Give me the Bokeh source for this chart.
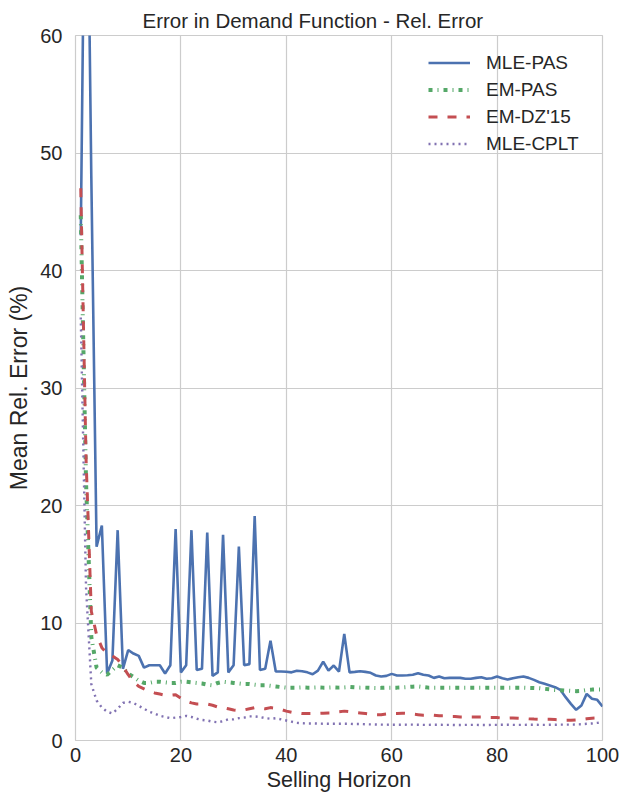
from bokeh.plotting import figure
from bokeh.models import ColumnDataSource, Legend, LegendItem, FixedTicker, Range1d
from bokeh.embed import file_html
from bokeh.resources import INLINE

# ---------------- data ----------------
horizon = list(range(1, 101))

mle_pas = [43, 85, 48, 16.5, 18.3, 5.7, 6.8, 17.9, 6.1, 7.7,
           7.4, 7.2, 6.2, 6.4, 6.4, 6.4, 5.7, 6.4, 18.0, 5.8,
           6.4, 17.9, 6.0, 6.1, 17.7, 5.5, 5.8, 17.5, 5.8, 6.4,
           16.5, 6.4, 6.5, 19.1, 6.0, 6.1, 8.5, 5.87, 5.87, 5.85,
           5.8, 5.93, 5.9, 5.8, 5.64, 5.95, 6.72, 5.95, 6.38, 5.87,
           9.08, 5.8, 5.84, 5.9, 5.84, 5.76, 5.53, 5.45, 5.5, 5.67,
           5.53, 5.53, 5.55, 5.6, 5.73, 5.6, 5.53, 5.33, 5.45, 5.3,
           5.33, 5.33, 5.33, 5.25, 5.25, 5.33, 5.39, 5.25, 5.3, 5.45,
           5.3, 5.19, 5.3, 5.39, 5.45, 5.33, 5.16, 4.96, 4.82, 4.68,
           4.54, 4.31, 3.69, 3.12, 2.61, 2.98, 3.97, 3.55, 3.46, 2.89]

em_pas = [44.7, 22, 8.8, 6.2, 5.8, 5.6, 6.0, 6.4, 6.2, 5.7,
          5.4, 5.1, 4.9, 4.9, 5.0, 5.0, 4.95, 4.9, 4.9, 5.0,
          5.0, 4.95, 4.9, 4.85, 4.75, 4.7, 4.9, 5.0, 4.95, 4.9,
          4.85, 4.8, 4.8, 4.75, 4.7, 4.7, 4.65, 4.6, 4.55, 4.5,
          4.5, 4.5, 4.52, 4.5, 4.5, 4.52, 4.5, 4.5, 4.52, 4.5,
          4.52, 4.55, 4.52, 4.5, 4.5, 4.48, 4.47, 4.48, 4.5, 4.5,
          4.5, 4.52, 4.55, 4.58, 4.6, 4.55, 4.5, 4.5, 4.5, 4.5,
          4.5, 4.5, 4.5, 4.5, 4.5, 4.5, 4.5, 4.5, 4.5, 4.5,
          4.5, 4.5, 4.5, 4.5, 4.5, 4.48, 4.47, 4.45, 4.4, 4.35,
          4.3, 4.28, 4.25, 4.22, 4.2, 4.22, 4.3, 4.33, 4.35, 4.35]

em_dz15 = [47, 24, 11, 9.0, 7.9, 7.4, 7.2, 6.9, 6.3, 5.6,
           5.0, 4.6, 4.4, 4.2, 4.05, 3.95, 3.85, 3.85, 3.9, 3.6,
           3.35, 3.2, 3.1, 3.1, 3.1, 3.0, 2.85, 2.8, 2.7, 2.6,
           2.55, 2.6, 2.7, 2.8, 2.75, 2.7, 2.8, 2.75, 2.65, 2.5,
           2.4, 2.35, 2.3, 2.3, 2.3, 2.3, 2.32, 2.35, 2.35, 2.45,
           2.5, 2.45, 2.4, 2.35, 2.3, 2.25, 2.2, 2.2, 2.25, 2.3,
           2.3, 2.32, 2.3, 2.25, 2.2, 2.15, 2.15, 2.15, 2.1, 2.1,
           2.05, 2.05, 2.0, 2.0, 2.0, 2.0, 2.0, 1.95, 1.95, 1.95,
           1.9, 1.9, 1.92, 1.9, 1.88, 1.85, 1.82, 1.8, 1.8, 1.8,
           1.78, 1.75, 1.72, 1.72, 1.75, 1.78, 1.85, 1.9, 1.92, 1.92]

mle_cplt = [36, 13, 4.8, 3.4, 2.8, 2.45, 2.3, 2.7, 3.2, 3.3,
            3.2, 2.95, 2.7, 2.45, 2.3, 2.1, 2.0, 1.9, 1.95, 2.0,
            2.1, 2.0, 1.85, 1.75, 1.7, 1.6, 1.55, 1.65, 1.8, 1.8,
            1.9, 1.95, 2.05, 2.05, 2.0, 1.9, 1.85, 1.9, 1.8, 1.7,
            1.6, 1.5, 1.47, 1.45, 1.45, 1.44, 1.43, 1.42, 1.42, 1.42,
            1.42, 1.42, 1.4, 1.4, 1.38, 1.37, 1.36, 1.35, 1.35, 1.34,
            1.34, 1.34, 1.35, 1.35, 1.34, 1.33, 1.33, 1.34, 1.34, 1.33,
            1.33, 1.32, 1.32, 1.33, 1.33, 1.33, 1.32, 1.32, 1.33, 1.33,
            1.34, 1.34, 1.33, 1.33, 1.33, 1.34, 1.34, 1.33, 1.33, 1.34,
            1.34, 1.35, 1.35, 1.35, 1.36, 1.38, 1.42, 1.45, 1.5, 1.55]

series_names = ["MLE-PAS", "EM-PAS", "EM-DZ'15", "MLE-CPLT"]
x_ticks = [0, 20, 40, 60, 80, 100]
y_ticks = [0, 10, 20, 30, 40, 50, 60]

# ---------------- figure ----------------
FONT = "Liberation Sans"
TXT = "#262626"

p = figure(frame_width=527, frame_height=705,
           x_range=Range1d(0, 100), y_range=Range1d(0, 60),
           output_backend="svg", toolbar_location=None,
           title="Error in Demand Function - Rel. Error",
           min_border_left=75, min_border_right=17,
           min_border_top=35, min_border_bottom=58)

p.background_fill_color = "white"
p.border_fill_color = "white"
p.outline_line_color = "#cccccc"
p.outline_line_width = 1.2

p.title.align = "left"
p.title.offset = 67
p.title.text_font = FONT
p.title.text_font_size = "20.5px"
p.title.text_font_style = "normal"
p.title.text_color = TXT
p.title.standoff = 7

for ax in (p.xaxis[0], p.yaxis[0]):
    ax.axis_line_color = None
    ax.major_tick_line_color = None
    ax.minor_tick_line_color = None
    ax.major_tick_out = 0
    ax.major_tick_in = 0
    ax.major_label_text_font = FONT
    ax.major_label_text_font_size = "20px"
    ax.major_label_text_color = TXT
    ax.axis_label_text_font = FONT
    ax.axis_label_text_font_style = "normal"
    ax.axis_label_text_color = TXT

p.xaxis.axis_label_text_font_size = "21.5px"
p.yaxis.axis_label_text_font_size = "23px"
p.xaxis.ticker = FixedTicker(ticks=x_ticks)
p.yaxis.ticker = FixedTicker(ticks=y_ticks)
p.xaxis.axis_label = "Selling Horizon"
p.yaxis.axis_label = "Mean Rel. Error (%)"
p.xaxis.major_label_standoff = 7
p.xaxis.axis_label_standoff = 3
p.yaxis.major_label_standoff = 13
p.yaxis.axis_label_standoff = 5

p.xgrid.grid_line_color = "#cccccc"
p.ygrid.grid_line_color = "#cccccc"
p.xgrid.grid_line_width = 1.2
p.ygrid.grid_line_width = 1.2

src = ColumnDataSource(dict(x=horizon, a=mle_pas, b=em_pas, c=em_dz15, d=mle_cplt))

r1 = p.line("x", "a", source=src, line_color="#4C72B0", line_width=2.6)
r2 = p.line("x", "b", source=src, line_color="#55A868", line_width=4,
            line_dash="4 5 1 5")
r3 = p.line("x", "c", source=src, line_color="#C44E52", line_width=3,
            line_dash="9 10")
r4 = p.line("x", "d", source=src, line_color="#8172B2", line_width=2.4,
            line_dash="2 4")

legend = Legend(items=[LegendItem(label=series_names[0], renderers=[r1]),
                       LegendItem(label=series_names[1], renderers=[r2]),
                       LegendItem(label=series_names[2], renderers=[r3]),
                       LegendItem(label=series_names[3], renderers=[r4])],
                location=(353, 584))
legend.background_fill_alpha = 0
legend.border_line_color = None
legend.label_text_font = FONT
legend.label_text_font_size = "19px"
legend.label_text_color = TXT
legend.glyph_width = 42
legend.glyph_height = 25
legend.label_height = 25
legend.label_standoff = 16
legend.spacing = 2
legend.padding = 8
legend.margin = 0
p.add_layout(legend, "center")

open("out.html", "w").write(file_html(p, INLINE))
